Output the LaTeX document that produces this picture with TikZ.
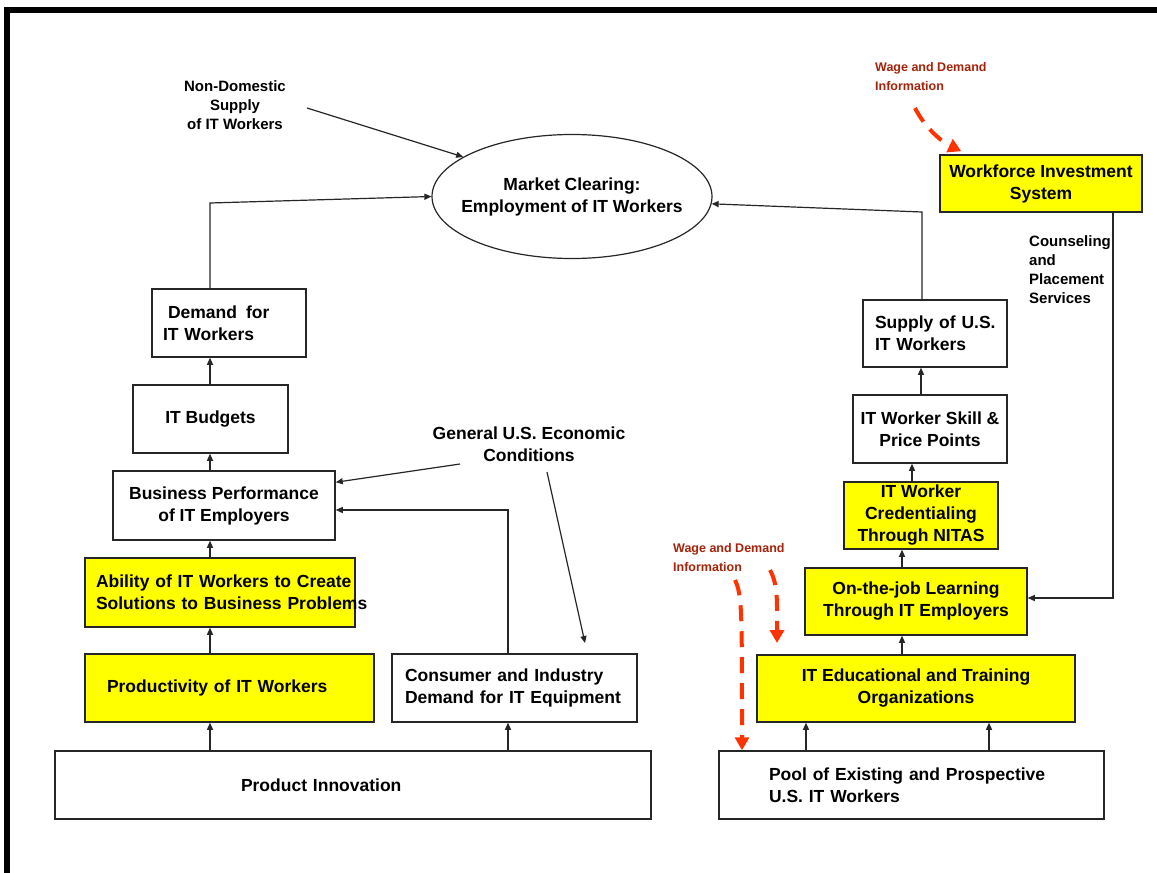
\documentclass[tikz,border=0pt]{standalone}
\usepackage{fontspec}
\setmainfont{Liberation Sans}
\usetikzlibrary{arrows.meta,shapes.geometric}
\definecolor{infored}{RGB}{165,35,10}
\definecolor{flowred}{RGB}{255,51,0}
\definecolor{boxyellow}{RGB}{255,255,0}
\begin{document}
\begin{tikzpicture}[x=1pt,y=-1pt,
  font=\fontsize{17.5}{22}\selectfont\bfseries,
  box/.style={draw=black!85, line width=1.5pt, inner ysep=0pt, minimum height=68pt},
  ybox/.style={box, fill=boxyellow},
  note/.style={font=\fontsize{15}{19}\selectfont\bfseries, inner sep=0pt},
  info/.style={font=\fontsize{12.5}{19}\selectfont\bfseries, text=infored, align=left, inner sep=0pt, anchor=west},
  link/.style={draw=black!85, line width=1.2pt, -{Triangle[length=7pt,width=6pt]}},
  flow/.style={draw=flowred, line width=4pt, dash pattern=on 16pt off 10pt, -{Triangle[length=13pt,width=14pt]}},
]
\useasboundingbox (0,0) rectangle (1157,873);
\fill[white] (0,0) rectangle (1157,873);
% frame edges
\fill (4,7) rectangle (1157,13);
\fill (4,7) rectangle (10,873);

% central market node and its caption
\node[ellipse, draw=black!85, line width=1.2pt, minimum width=280pt, minimum height=124pt, inner sep=0pt] (market) at (572,196.5) {};
\node[align=center, inner sep=0pt] (markettext) at (market.center) {Market Clearing:\\Employment of IT Workers};

% demand side
\node[box, text width=132pt, inner xsep=11pt, align=left] (demand) at (229,323) {\mbox{\hspace*{5pt}Demand\hspace{9pt}for}\\\mbox{IT Workers}};
\node[box, minimum width=155pt, align=center] (budgets) at (210.5,419) {\raisebox{4pt}{IT Budgets}};
\node[box, minimum width=222pt, minimum height=69pt, align=center] (business) at (224,505.5) {Business Performance\\of IT Employers};
\node[ybox, text width=248pt, inner xsep=11pt, align=left, minimum height=69pt] (ability) at (220,592.5) {\mbox{Ability of IT Workers to Create}\\\mbox{Solutions to Business Problems}};
\node[ybox, text width=245pt, inner xsep=22pt, align=left] (product) at (229.5,688) {\raisebox{3pt}{Productivity of IT Workers}};
\node[box, text width=219pt, inner xsep=13pt, align=left] (consumer) at (514.5,688) {\mbox{Consumer and Industry}\\\mbox{Demand for IT Equipment}};
\node[box, text width=224pt, inner xsep=186pt, align=left] (innov) at (353,785) {\mbox{Product Innovation}};

% supply side
\node[ybox, minimum width=202pt, minimum height=57pt, inner xsep=1pt, align=center] (wis) at (1041,183.5) {Workforce Investment\\System};
\node[box, text width=120pt, inner xsep=12pt, align=left, minimum height=67pt] (supply) at (935,333.5) {\mbox{Supply of U.S.}\\\mbox{IT Workers}};
\node[box, minimum width=154pt, inner xsep=1pt, align=center] (skill) at (930,429) {IT Worker Skill \&\\Price Points};
\node[ybox, minimum width=154pt, minimum height=67pt, align=center] (cred) at (921,515.5) {IT Worker\\Credentialing\\Through NITAS};
\node[ybox, minimum width=222pt, minimum height=67pt, align=center] (ojt) at (916,601.5) {On-the-job Learning\\Through IT Employers};
\node[ybox, minimum width=318pt, minimum height=67pt, align=center] (edu) at (916,688.5) {IT Educational and Training\\Organizations};
\node[box, text width=285pt, inner xsep=50pt, align=left] (pool) at (911.5,785) {\mbox{Pool of Existing and Prospective}\\\mbox{U.S. IT Workers}};

% free labels
\node[note, align=center] (nondom) at (235,105) {Non-Domestic\\Supply\\of IT Workers};
\node[align=center, inner sep=0pt] (general) at (529,444) {General U.S. Economic\\Conditions};
\node[note, align=left, anchor=west] (counsel) at (1029,269.5) {Counseling\\and\\Placement\\Services};
\node[info] (wage1) at (875,76.5) {Wage and Demand\\Information};
\node[info] (wage2) at (673,557.5) {Wage and Demand\\Information};

% routing coordinates
\coordinate (lx) at (210,0);
\coordinate (dtop) at (210,203);
\coordinate (cx) at (508,510);
\coordinate (g1) at (460,464);
\coordinate (g2) at (547,472);
\coordinate (g3) at (585,643);
\coordinate (r1) at (921,0);
\coordinate (r2) at (912,0);
\coordinate (r3) at (902,0);
\coordinate (p1) at (806,0);
\coordinate (p2) at (989,0);
\coordinate (sx) at (922,212);
\coordinate (wx) at (1113,0);
\coordinate (nd) at (307,108);
\coordinate (w1) at (915,108);
\coordinate (wa) at (735,580);
\coordinate (wb) at (770,570);
\coordinate (fx) at (742,0);
\coordinate (fend) at (777,643);

% demand-side links
\draw[link] (innov.north -| lx) -- (product.south -| lx);
\draw[link] (product.north -| lx) -- (ability.south -| lx);
\draw[link] (ability.north -| lx) -- (business.south -| lx);
\draw[link] (business.north -| lx) -- (budgets.south -| lx);
\draw[link] (budgets.north -| lx) -- (demand.south -| lx);
\draw[link] (demand.north -| lx) -- (dtop) -- (market.west);
\draw[link] (innov.north -| cx) -- (consumer.south -| cx);
\draw[link] (consumer.north -| cx) -- (cx) -- (business.east |- cx);
\draw[link] (nd) -- (market.160);
\draw[link] (g1) -- ([yshift=-12pt]business.north east);
\draw[link] (g2) -- (g3);

% supply-side links
\draw[link] (skill.north -| r1) -- (supply.south -| r1);
\draw[link] (cred.north -| r2) -- (skill.south -| r2);
\draw[link] (ojt.north -| r3) -- (cred.south -| r3);
\draw[link] (edu.north -| r3) -- (ojt.south -| r3);
\draw[link] (pool.north -| p1) -- (edu.south -| p1);
\draw[link] (pool.north -| p2) -- (edu.south -| p2);
\draw[link] (supply.north -| sx) -- (sx) -- (market.-3);
\draw[link] (wis.south -| wx) |- ([yshift=3.5pt]ojt.east);

% wage and demand information flows
\draw[flow] (w1) .. controls (925,128) and (942,142) .. ([xshift=22pt,yshift=3pt]wis.north west);
\draw[flow] (wa) .. controls (742,595) and (742,610) .. (pool.north -| fx);
\draw[flow] (wb) .. controls (778,585) and (777,600) .. (fend);
\end{tikzpicture}
\end{document}
